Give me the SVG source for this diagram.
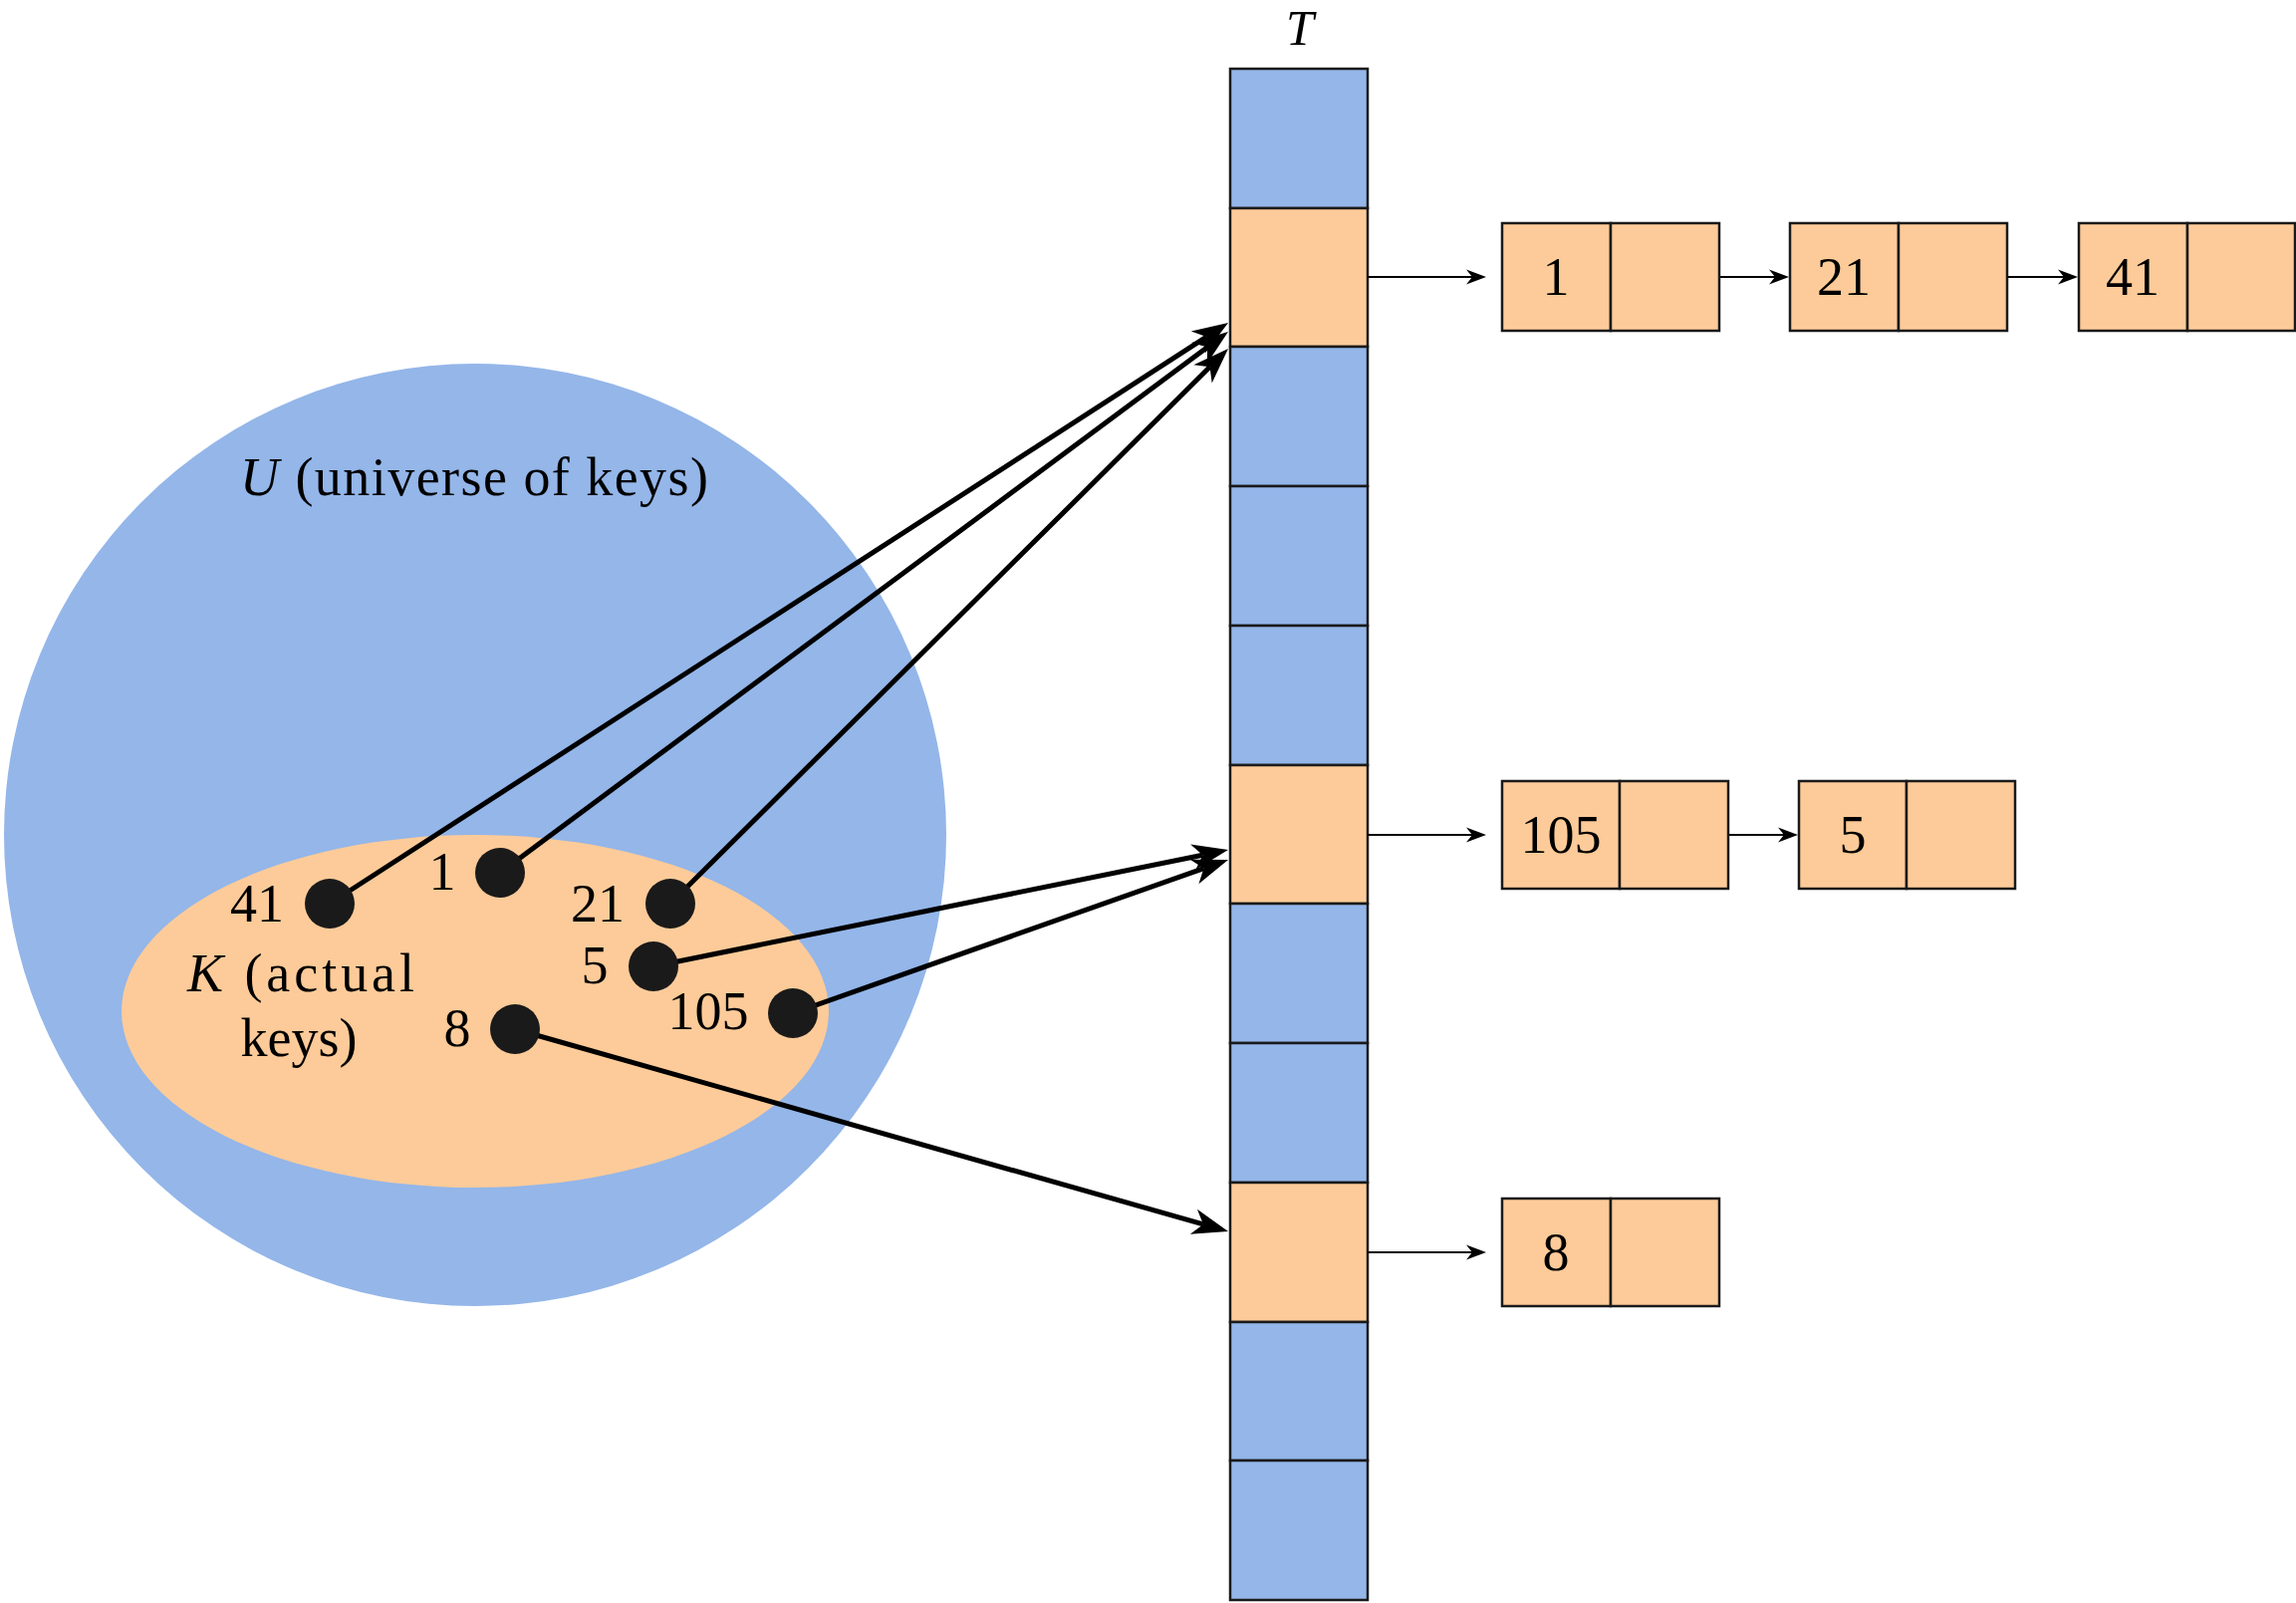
<svg xmlns="http://www.w3.org/2000/svg" width="2305" height="1609" viewBox="0 0 2305 1609">
<defs>
<style>
.txt{font-family:"Liberation Serif","Times New Roman",serif;font-size:54px;fill:#000}
.it{font-style:italic}
.blue{fill:#94B6E9;stroke:#1a1a1a;stroke-width:2.5}
.orange{fill:#FDCB99;stroke:#1a1a1a;stroke-width:2.5}
.dot{fill:#1a1a1a}
.thick{stroke:#000;stroke-width:5;fill:none;marker-end:url(#big)}
.thin{stroke:#000;stroke-width:2;fill:none;marker-end:url(#small)}
</style>
<marker id="big" markerUnits="userSpaceOnUse" viewBox="-12 -15 40 30" markerWidth="40" markerHeight="30" refX="0" refY="0" orient="auto" overflow="visible">
<path d="M26 0 L-10 -13 L0 0 L-10 13 Z" fill="#000"/>
</marker>
<marker id="small" markerUnits="userSpaceOnUse" viewBox="-8 -9 24 18" markerWidth="24" markerHeight="18" refX="0" refY="0" orient="auto" overflow="visible">
<path d="M14 0 L-6 -7.5 L0 0 L-6 7.5 Z" fill="#000"/>
</marker>
</defs>
<rect width="2305" height="1609" fill="#fff"/>

<g id="universe">
<circle cx="477" cy="838" r="473" fill="#94B6E9"/>
<text class="txt" x="241" y="497" textLength="470" lengthAdjust="spacing"><tspan class="it">U</tspan> (universe of keys)</text>
</g>
<g id="actual-keys">
<ellipse cx="477" cy="1015" rx="355" ry="177" fill="#FDCB99"/>
<text class="txt" x="302" y="995" text-anchor="middle" textLength="228" lengthAdjust="spacing"><tspan class="it">K</tspan> (actual</text>
<text class="txt" x="300" y="1060" text-anchor="middle">keys)</text>
</g>

<g id="table">
<text class="txt it" x="1305" y="45" text-anchor="middle" style="font-size:50px">T</text>
<rect class="blue" x="1235" y="69" width="138" height="140"/>
<rect class="orange" x="1235" y="209" width="138" height="139"/>
<rect class="blue" x="1235" y="348" width="138" height="140"/>
<rect class="blue" x="1235" y="488" width="138" height="140"/>
<rect class="blue" x="1235" y="628" width="138" height="140"/>
<rect class="orange" x="1235" y="768" width="138" height="139"/>
<rect class="blue" x="1235" y="907" width="138" height="140"/>
<rect class="blue" x="1235" y="1047" width="138" height="140"/>
<rect class="orange" x="1235" y="1187" width="138" height="140"/>
<rect class="blue" x="1235" y="1327" width="138" height="139"/>
<rect class="blue" x="1235" y="1466" width="138" height="140"/>
</g>

<g id="connectors">
<line class="thick" x1="331" y1="907" x2="1211.2" y2="338.1"/>
<line class="thick" x1="502" y1="876" x2="1212.1" y2="348.5"/>
<line class="thick" x1="673" y1="907" x2="1214.6" y2="368.3"/>
<line class="thick" x1="656" y1="970" x2="1207.5" y2="858.2"/>
<line class="thick" x1="796" y1="1017" x2="1208.5" y2="871.6"/>
<line class="thick" x1="517" y1="1033" x2="1208" y2="1228.9"/>
<line class="thin" x1="1373" y1="278" x2="1478" y2="278"/>
<line class="thin" x1="1726" y1="278" x2="1782" y2="278"/>
<line class="thin" x1="2015" y1="278" x2="2072" y2="278"/>
<line class="thin" x1="1373" y1="838" x2="1478" y2="838"/>
<line class="thin" x1="1735" y1="838" x2="1791" y2="838"/>
<line class="thin" x1="1373" y1="1257" x2="1478" y2="1257"/>
</g>

<g id="key-41"><circle class="dot" cx="331" cy="907" r="25"/><text class="txt" x="258" y="925" text-anchor="middle">41</text></g>
<g id="key-1"><circle class="dot" cx="502" cy="876" r="25"/><text class="txt" x="444" y="893" text-anchor="middle">1</text></g>
<g id="key-21"><circle class="dot" cx="673" cy="907" r="25"/><text class="txt" x="600" y="925" text-anchor="middle">21</text></g>
<g id="key-5"><circle class="dot" cx="656" cy="970" r="25"/><text class="txt" x="597" y="987" text-anchor="middle">5</text></g>
<g id="key-105"><circle class="dot" cx="796" cy="1017" r="25"/><text class="txt" x="711" y="1033" text-anchor="middle">105</text></g>
<g id="key-8"><circle class="dot" cx="517" cy="1033" r="25"/><text class="txt" x="459" y="1050" text-anchor="middle">8</text></g>

<g id="node-1"><rect class="orange" x="1508" y="224" width="109" height="108"/><rect class="orange" x="1617" y="224" width="109" height="108"/><text class="txt" x="1562" y="296" text-anchor="middle">1</text></g>
<g id="node-21"><rect class="orange" x="1797" y="224" width="109" height="108"/><rect class="orange" x="1906" y="224" width="109" height="108"/><text class="txt" x="1851" y="296" text-anchor="middle">21</text></g>
<g id="node-41"><rect class="orange" x="2087" y="224" width="109" height="108"/><rect class="orange" x="2196" y="224" width="108" height="108"/><text class="txt" x="2141" y="296" text-anchor="middle">41</text></g>
<g id="node-105"><rect class="orange" x="1508" y="784" width="118" height="108"/><rect class="orange" x="1626" y="784" width="109" height="108"/><text class="txt" x="1567" y="856" text-anchor="middle">105</text></g>
<g id="node-5"><rect class="orange" x="1806" y="784" width="108" height="108"/><rect class="orange" x="1914" y="784" width="109" height="108"/><text class="txt" x="1860" y="856" text-anchor="middle">5</text></g>
<g id="node-8"><rect class="orange" x="1508" y="1203" width="109" height="108"/><rect class="orange" x="1617" y="1203" width="109" height="108"/><text class="txt" x="1562" y="1275" text-anchor="middle">8</text></g>
</svg>
